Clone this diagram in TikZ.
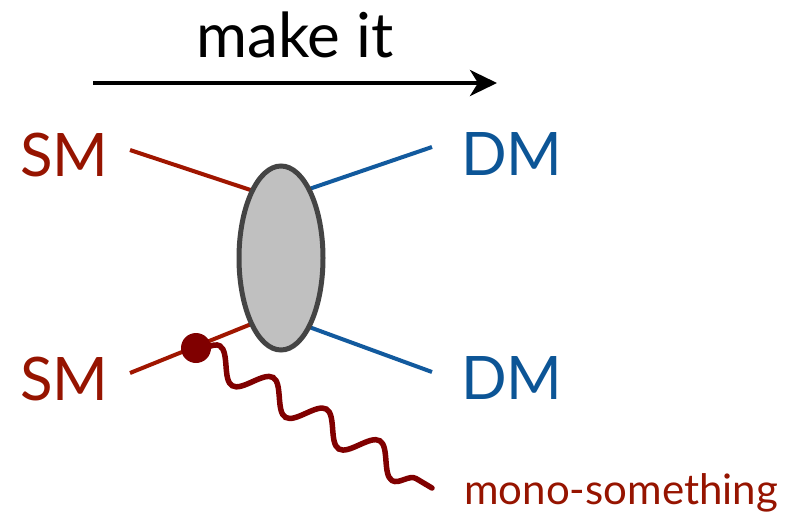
\documentclass[tikz,border=0pt]{standalone}
\usepackage{fontspec}
\setmainfont{Lato}
\usetikzlibrary{arrows.meta,decorations.pathmorphing,backgrounds,shapes.geometric}
\definecolor{smred}{RGB}{150,20,0}
\definecolor{smline}{RGB}{160,22,0}
\definecolor{dmblue}{RGB}{12,85,150}
\definecolor{dmline}{RGB}{18,90,158}
\definecolor{darkdot}{RGB}{128,0,0}
\definecolor{blobfill}{RGB}{192,192,192}
\definecolor{blobdraw}{RGB}{68,68,68}
\tikzset{
  lbl/.style={anchor=base west, inner sep=0pt, font=\fontsize{60}{60}\selectfont},
  smlbl/.style={lbl, text=smred},
  dmlbl/.style={lbl, text=dmblue},
  smleg/.style={draw=smline, line width=4pt},
  dmleg/.style={draw=dmline, line width=4pt},
  blobstyle/.style={ellipse, draw=blobdraw, fill=blobfill, line width=5pt, minimum width=84pt, minimum height=184pt, inner sep=0pt, outer sep=0pt},
  wavy/.style={draw=darkdot, line width=5.5pt, line cap=round, decorate, decoration={snake, segment length=62pt, amplitude=14pt}},
}
\begin{document}
\begin{tikzpicture}[x=1pt,y=1pt]
\useasboundingbox (0,0) rectangle (787,-512);
% arrow and title
\coordinate (arrS) at (93,-83);
\coordinate (arrE) at (497,-83);
\draw[line width=4pt, -{Stealth[length=27pt,width=26pt,inset=8pt]}] (arrS) -- (arrE);
\node[anchor=base, inner sep=0pt, font=\fontsize{62}{62}\selectfont] (title) at (295,-57) {make it};
% labels
\node[smlbl] (sm1) at (20,-176) {SM};
\node[smlbl] (sm2) at (20,-400) {SM};
\node[dmlbl] (dm1) at (461,-175) {DM};
\node[dmlbl] (dm2) at (461,-399) {DM};
% blob
\node[blobstyle] (blob) at (281,-258) {};
% leg endpoints
\coordinate (a1) at (130,-150);
\coordinate (a2) at (130,-373);
\coordinate (b1) at (432,-147);
\coordinate (b2) at (432,-372);
\begin{scope}[on background layer]
\fill[white] (0,0) rectangle (787,-512);
\draw[smleg] (a1) -- (blob.113.7);
\draw[smleg] (a2) -- (blob.246.6);
\draw[dmleg] (blob.68.3) -- (b1);
\draw[dmleg] (blob.292.8) -- (b2);
\end{scope}
% radiated particle
\coordinate (dot) at (196,-348);
\coordinate (wend) at (432,-488);
\draw[wavy] (dot) -- (wend);
\fill[darkdot] (dot) circle (15pt);
\node[anchor=base west, inner sep=0pt, text=smred, font=\fontsize{42}{42}\selectfont] (mono) at (464,-504) {mono-something};
\end{tikzpicture}
\end{document}
